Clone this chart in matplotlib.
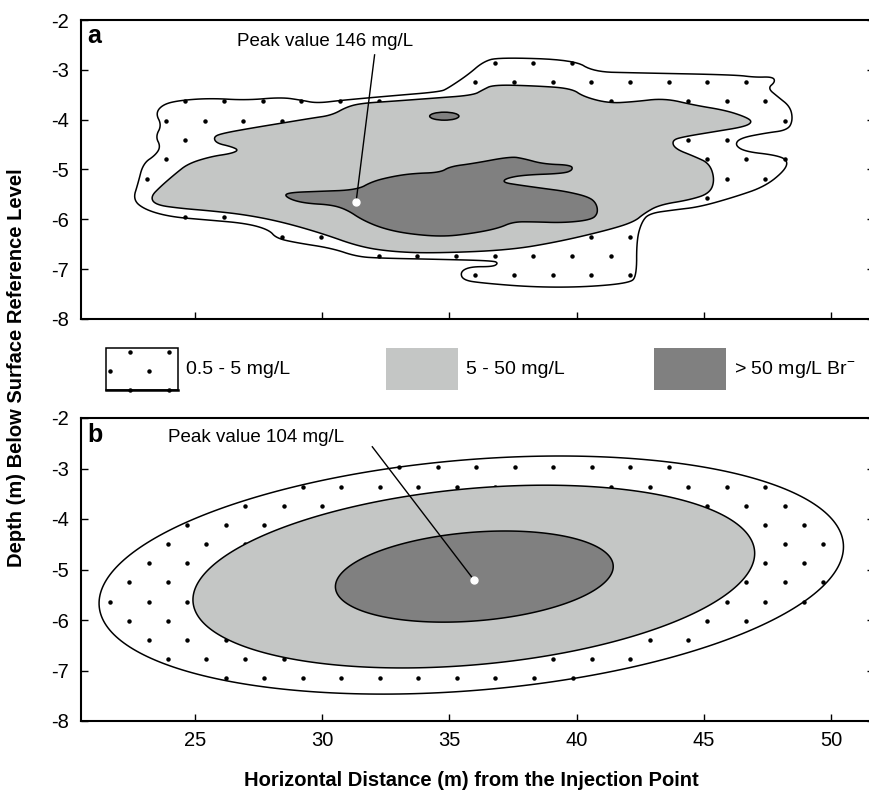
import numpy as np
import matplotlib
matplotlib.use("Agg")
import matplotlib.pyplot as plt
from matplotlib.path import Path
from matplotlib.patches import Polygon, Ellipse, Rectangle

plt.rcParams["font.family"] = ["Liberation Sans", "DejaVu Sans"]
plt.rcParams["mathtext.fontset"] = "custom"
plt.rcParams["mathtext.rm"] = "Liberation Sans"

X_TICKS = [25, 30, 35, 40, 45, 50]
Y_TICKS = [-2, -3, -4, -5, -6, -7, -8]

LIGHT = "#c4c6c5"
DARK = "#808080"

# ---- panel a: digitised contour outlines (distance m, depth m)
A_OUTER_X = [22.56, 22.76, 22.96, 23.45, 23.65, 23.45, 23.69, 23.45, 23.75, 24.44,
             25.63, 27.01, 28.40, 29.19, 29.79, 30.78, 32.76, 34.64, 34.94, 35.73,
             36.32, 36.92, 39.89, 40.68, 42.26, 46.22, 47.01, 47.71, 47.81, 47.51,
             47.91, 48.40, 48.50, 48.30, 47.41, 46.42, 46.22, 46.62, 47.81, 48.30,
             48.20, 47.41, 46.22, 44.84, 43.85, 42.86, 42.56, 42.36, 42.36, 42.06,
             40.28, 38.30, 36.32, 35.53, 35.43, 35.83, 36.72, 36.92, 36.72, 34.34,
             32.36, 31.37, 30.38, 28.99, 28.20, 27.91, 27.01, 25.43, 24.04, 23.05]
A_OUTER_Y = [-5.61, -5.28, -4.88, -4.71, -4.54, -4.34, -4.11, -3.87, -3.69, -3.61,
             -3.57, -3.61, -3.55, -3.61, -3.67, -3.61, -3.52, -3.44, -3.37, -3.10,
             -2.84, -2.75, -2.80, -3.04, -3.06, -3.10, -3.15, -3.14, -3.24, -3.37,
             -3.54, -3.74, -4.01, -4.21, -4.27, -4.37, -4.51, -4.64, -4.71, -4.81,
             -5.01, -5.34, -5.55, -5.75, -5.81, -5.88, -6.05, -6.41, -7.15, -7.28,
             -7.36, -7.36, -7.28, -7.22, -7.05, -6.95, -6.95, -6.88, -6.83, -6.80,
             -6.78, -6.75, -6.58, -6.47, -6.38, -6.21, -6.08, -6.01, -5.95, -5.81]

A_MID_X = [23.25, 23.65, 24.24, 24.74, 25.63, 26.42, 26.72, 26.42, 25.83, 25.73,
           26.12, 27.21, 28.40, 29.59, 30.38, 30.98, 31.57, 32.76, 34.34, 35.93,
           36.32, 36.72, 38.30, 39.79, 40.28, 41.27, 42.26, 43.45, 44.64, 45.83,
           46.62, 46.92, 46.62, 45.43, 44.24, 43.75, 43.85, 44.64, 45.23, 45.43,
           45.23, 44.44, 43.25, 42.66, 42.26, 41.27, 39.29, 37.31, 34.34, 32.76,
           31.47, 29.98, 28.40, 27.01, 25.63, 24.44, 23.45]
A_MID_Y = [-5.55, -5.34, -5.08, -4.88, -4.74, -4.68, -4.61, -4.54, -4.47, -4.34,
           -4.27, -4.17, -4.07, -3.97, -3.91, -3.74, -3.67, -3.63, -3.57, -3.51,
           -3.40, -3.30, -3.32, -3.37, -3.54, -3.67, -3.64, -3.57, -3.71, -3.81,
           -3.94, -4.04, -4.14, -4.24, -4.34, -4.41, -4.58, -4.74, -4.88, -5.21,
           -5.48, -5.61, -5.71, -5.88, -6.05, -6.21, -6.45, -6.62, -6.68, -6.65,
           -6.55, -6.28, -6.05, -5.91, -5.83, -5.78, -5.71]

A_IN_X = [28.50, 28.80, 29.79, 31.37, 31.97, 32.76, 33.55, 34.64, 35.03, 35.93,
          37.41, 37.91, 38.70, 39.79, 39.85, 39.49, 37.91, 37.21, 37.11, 37.71,
          38.70, 39.59, 40.48, 40.78, 40.84, 40.58, 39.49, 38.30, 37.51, 36.92,
          35.93, 34.74, 33.35, 32.36, 31.57, 30.98, 30.38, 29.39, 28.80]
A_IN_Y = [-5.51, -5.46, -5.44, -5.41, -5.24, -5.14, -5.08, -5.06, -4.94, -4.88,
          -4.74, -4.78, -4.89, -4.91, -5.01, -5.08, -5.11, -5.18, -5.26, -5.31,
          -5.38, -5.44, -5.55, -5.68, -5.88, -6.01, -6.07, -6.05, -6.05, -6.18,
          -6.28, -6.35, -6.29, -6.18, -6.01, -5.81, -5.71, -5.68, -5.61]

A_SPOT = (34.8, -3.93, 1.15, 0.16)   # small >50 patch: x, y, width, height
A_PEAK = (31.33, -5.66)
A_LEADER = (32.06, -2.70)
A_TEXT = (26.65, -2.44, "Peak value 146 mg/L")

# ---- panel b: fitted ellipses (cx, cy, half length A, half height B, tilt D)
B_OUTER = (35.86, -5.11, 14.63, 2.29, 0.56)
B_MID = (35.96, -5.14, 11.04, 1.75, 0.46)
B_IN = (35.98, -5.14, 5.46, 0.88, 0.20)
B_PEAK = (35.97, -5.21)
B_LEADER = (31.97, -2.57)
B_TEXT = (23.94, -2.38, "Peak value 104 mg/L")

LEGEND_LABELS = ["0.5 - 5 mg/L", "5 - 50 mg/L", "> 50 mg/L Br$^{-}$"]


def smooth(xs, ys, n=3):
    pts = np.column_stack([xs, ys])
    for _ in range(n):
        nxt = np.roll(pts, -1, axis=0)
        q = 0.75 * pts + 0.25 * nxt
        r = 0.25 * pts + 0.75 * nxt
        pts = np.empty((2 * len(q), 2))
        pts[0::2] = q
        pts[1::2] = r
    return pts


def ellipse_pts(e, n=300):
    cx, cy, a, b, d = e
    t = np.linspace(0, 2 * np.pi, n)
    return np.column_stack([cx + a * np.cos(t), cy + b * np.sin(t) + d * np.cos(t)])


def stipple(ax, outer, inner, x0, y0, dx, dy):
    # regular staggered dot texture inside outer but outside inner
    xmax = outer[:, 0].max() + dx
    pts = []
    for k in range(-12, 20):
        y = y0 - k * dy
        shift = (k % 2) * dx / 2
        for x in np.arange(x0 - 20 * dx - shift, xmax, dx):
            pts.append((x, y))
    pts = np.array(pts)
    keep = Path(outer).contains_points(pts) & ~Path(inner).contains_points(pts)
    ax.plot(pts[keep, 0], pts[keep, 1], "o", ms=2.2, color="black", zorder=2)


def setup(ax):
    ax.set_xlim(20.52, 51.69)
    ax.set_ylim(-8, -2)
    ax.set_xticks(X_TICKS)
    ax.set_yticks(Y_TICKS)
    ax.set_yticklabels([str(v) for v in Y_TICKS])
    ax.tick_params(direction="in", length=5, width=1, labelsize=14.5)
    ax.tick_params(axis="y", right=True, pad=9)
    ax.tick_params(axis="x", pad=7)
    for s in ax.spines.values():
        s.set_linewidth(1.5)


def fill(ax, pts, color, z):
    ax.add_patch(Polygon(pts, closed=True, facecolor=color, edgecolor="black",
                         lw=1.1, zorder=z))


fig = plt.figure(figsize=(8.7, 7.91), dpi=100)

# legend strip in pixel units
leg = fig.add_axes([0, 0, 1, 1])
leg.set_xlim(0, 870)
leg.set_ylim(791, 0)
leg.axis("off")
boxes = [(106, "white"), (386, LIGHT), (654, DARK)]
for (bx, col), lab in zip(boxes, LEGEND_LABELS):
    leg.add_patch(Rectangle((bx, 348), 72, 42, facecolor=col,
                            edgecolor="black" if col == "white" else "none",
                            lw=1.1, zorder=1))
    leg.text(bx + 80, 369, lab, fontsize=14, va="center", ha="left")
box = np.array([[106, 348], [178, 348], [178, 391], [106, 391]], dtype=float)
hole = np.array([[0, 0], [1, 0], [1, 1], [0, 1]], dtype=float)
stipple(leg, box, hole, 130, 352, 39, -19)
leg.plot([106, 178], [390, 390], color="black", lw=1.8, zorder=3)

ax_a = fig.add_axes([81 / 870, 1 - 319 / 791, 793 / 870, 299 / 791])
ax_b = fig.add_axes([81 / 870, 1 - 721 / 791, 793 / 870, 303 / 791])
for ax in (ax_a, ax_b):
    setup(ax)
ax_a.set_xticklabels([])

# panel a
outer = smooth(A_OUTER_X, A_OUTER_Y)
mid = smooth(A_MID_X, A_MID_Y)
inner = smooth(A_IN_X, A_IN_Y)
fill(ax_a, outer, "white", 1)
stipple(ax_a, outer, mid, 36.78, -2.856, 1.52, 0.388)
fill(ax_a, mid, LIGHT, 3)
fill(ax_a, inner, DARK, 4)
ax_a.add_patch(Ellipse(A_SPOT[:2], A_SPOT[2], A_SPOT[3], facecolor=DARK,
                       edgecolor="black", lw=1.1, zorder=4))
ax_a.plot([A_LEADER[0], A_PEAK[0]], [A_LEADER[1], A_PEAK[1]], color="black", lw=1.0, zorder=5)
ax_a.plot(*A_PEAK, "o", ms=5, color="white", mec="white", zorder=6)
ax_a.text(A_TEXT[0], A_TEXT[1], A_TEXT[2], fontsize=13.5, va="center", ha="left")
ax_a.text(0.008, 0.985, "a", transform=ax_a.transAxes, fontsize=18,
          fontweight="bold", va="top", ha="left")

# panel b
outer = ellipse_pts(B_OUTER)
mid = ellipse_pts(B_MID)
inner = ellipse_pts(B_IN)
fill(ax_b, outer, "white", 1)
stipple(ax_b, outer, mid, 34.54, -2.977, 1.515, 0.38)
fill(ax_b, mid, LIGHT, 3)
fill(ax_b, inner, DARK, 4)
ax_b.plot([B_LEADER[0], B_PEAK[0]], [B_LEADER[1], B_PEAK[1]], color="black", lw=1.0, zorder=5)
ax_b.plot(*B_PEAK, "o", ms=5, color="white", mec="white", zorder=6)
ax_b.text(B_TEXT[0], B_TEXT[1], B_TEXT[2], fontsize=13.5, va="center", ha="left")
ax_b.text(0.008, 0.985, "b", transform=ax_b.transAxes, fontsize=18,
          fontweight="bold", va="top", ha="left")

fig.text(17 / 870, 1 - 368 / 791, "Depth (m) Below Surface Reference Level",
         rotation=90, fontsize=14.5, fontweight="bold", ha="center", va="center")
fig.text(471 / 870, 1 - 780 / 791, "Horizontal Distance (m) from the Injection Point",
         fontsize=14.5, fontweight="bold", ha="center", va="center")

fig.savefig("out.png", dpi=100)
